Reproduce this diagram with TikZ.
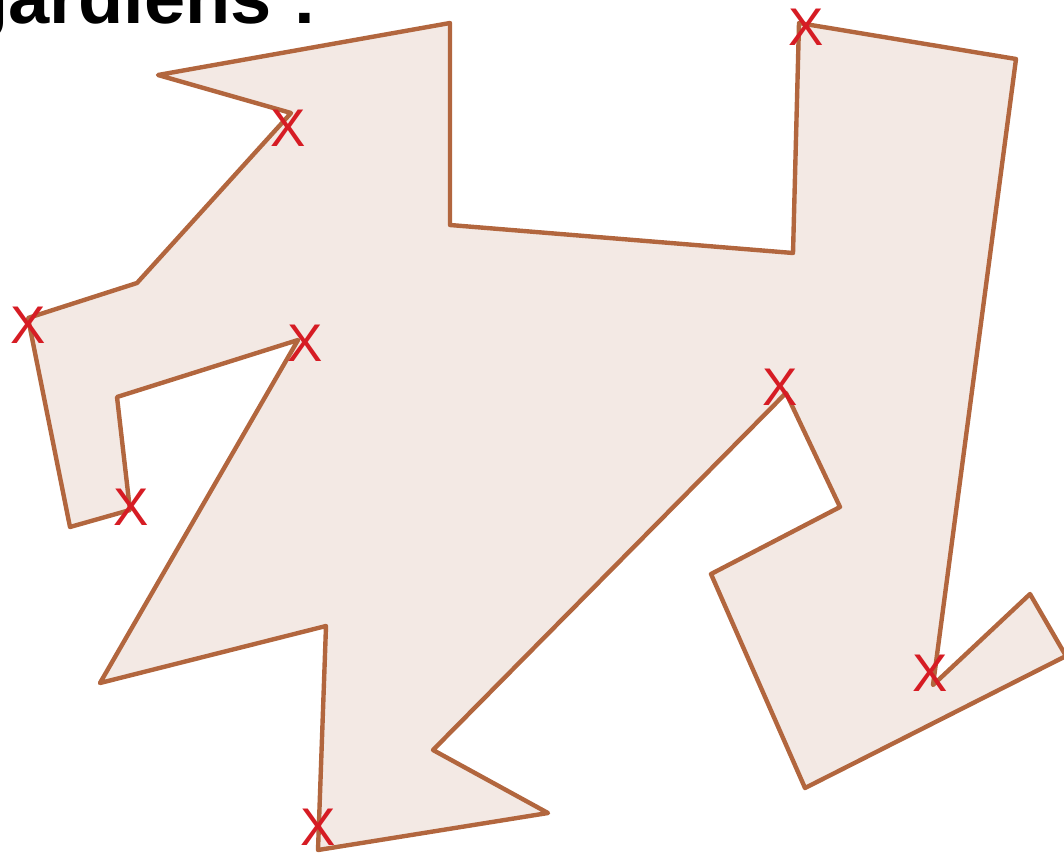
\documentclass[tikz,border=0pt]{standalone}
\usepackage{fontspec}
\setmainfont{Liberation Sans}
\definecolor{edge}{RGB}{178,102,62}
\definecolor{inside}{RGB}{243,233,228}
\definecolor{guard}{RGB}{214,28,36}
\tikzset{
  polyline/.style={draw=edge,fill=inside,line width=4.4pt,line join=round},
  guardmark/.style={text=guard,inner sep=0pt,font=\fontsize{53}{53}\selectfont},
  titletext/.style={inner sep=0pt,anchor=base west,font=\bfseries\fontsize{74}{80}\selectfont}
}
\begin{document}
\begin{tikzpicture}[x=1pt,y=-1pt]
\useasboundingbox (0,0) rectangle (1064,854);
\clip (0,0) rectangle (1064,854);
\coordinate (p1) at (158,75);
\coordinate (p2) at (450,23);
\coordinate (p3) at (450,225);
\coordinate (p4) at (793,253);
\coordinate (p5) at (799,23);
\coordinate (p6) at (1016,59);
\coordinate (p7) at (933,685);
\coordinate (p8) at (1030,594);
\coordinate (p9) at (1066,656);
\coordinate (p10) at (805,788);
\coordinate (p11) at (711,574);
\coordinate (p12) at (840,507);
\coordinate (p13) at (786,393);
\coordinate (p14) at (433,750);
\coordinate (p15) at (548,813);
\coordinate (p16) at (318,850);
\coordinate (p17) at (326,626);
\coordinate (p18) at (100,683);
\coordinate (p19) at (298,340);
\coordinate (p20) at (117,397);
\coordinate (p21) at (130,510);
\coordinate (p22) at (70,527);
\coordinate (p23) at (28,318);
\coordinate (p24) at (137,283);
\coordinate (p25) at (291,113);
\draw[polyline] (p1) -- (p2) -- (p3) -- (p4) -- (p5) -- (p6) -- (p7) -- (p8) -- (p9)
  -- (p10) -- (p11) -- (p12) -- (p13) -- (p14) -- (p15) -- (p16) -- (p17) -- (p18)
  -- (p19) -- (p20) -- (p21) -- (p22) -- (p23) -- (p24) -- (p25) -- cycle;
\node[titletext] (title) at (-37,23) {gardiens :};
\node[guardmark] (g1) at (806,27) {X};
\node[guardmark] (g2) at (288,128) {X};
\node[guardmark] (g3) at (28,325) {X};
\node[guardmark] (g4) at (305,343) {X};
\node[guardmark] (g5) at (131,507) {X};
\node[guardmark] (g6) at (780,387) {X};
\node[guardmark] (g7) at (930,673) {X};
\node[guardmark] (g8) at (318,827) {X};
\end{tikzpicture}
\end{document}
